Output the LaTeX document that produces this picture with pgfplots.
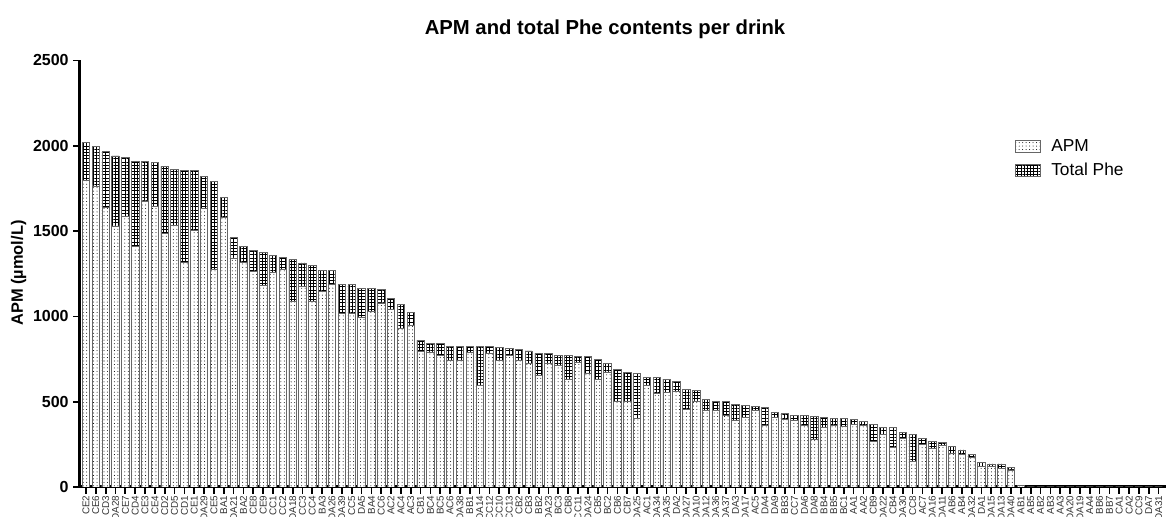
\documentclass[border=0pt]{standalone}
\usepackage{pgfplots}
\pgfplotsset{compat=1.18}
\usepackage{pgfplotstable}
\usetikzlibrary{patterns.meta}
\usepackage{fontspec}
\setmainfont{Liberation Sans}

\pgfplotstableread{
x total apm
0 2020 1795
1 1995 1765
2 1965 1641
3 1941 1530
4 1932 1584
5 1910 1412
6 1906 1677
7 1902 1643
8 1879 1484
9 1863 1533
10 1857 1314
11 1857 1506
12 1820 1634
13 1790 1275
14 1696 1579
15 1461 1343
16 1412 1318
17 1388 1265
18 1373 1180
19 1359 1259
20 1348 1275
21 1333 1089
22 1313 1177
23 1298 1089
24 1270 1144
25 1270 1187
26 1188 1017
27 1188 1017
28 1163 997
29 1163 1030
30 1159 1079
31 1105 1040
32 1069 929
33 1021 948
34 861 796
35 841 792
36 841 773
37 826 744
38 826 744
39 826 788
40 826 593
41 822 786
42 818 744
43 812 769
44 806 742
45 798 724
46 783 652
47 783 724
48 771 714
49 771 630
50 763 732
51 763 666
52 748 630
53 724 675
54 689 500
55 671 500
56 666 402
57 642 593
58 642 548
59 632 552
60 617 558
61 572 455
62 564 505
63 513 451
64 504 451
65 500 420
66 482 388
67 476 408
68 470 451
69 466 359
70 435 408
71 431 396
72 420 388
73 418 361
74 416 281
75 408 350
76 400 363
77 400 353
78 394 369
79 385 359
80 365 265
81 347 306
82 347 230
83 318 285
84 308 152
85 283 250
86 269 226
87 263 242
88 236 197
89 217 193
90 193 174
91 142 123
92 135 119
93 135 109
94 113 100
95 10 8
96 0 0
97 0 0
98 0 0
99 0 0
100 0 0
101 0 0
102 0 0
103 0 0
104 0 0
105 0 0
106 0 0
107 0 0
108 0 0
109 0 0
}\drinks

\begin{document}
\begin{tikzpicture}
\path[use as bounding box] (-60pt,-22.5pt) rectangle (815.25pt,365.25pt);
\begin{axis}[
  at={(0pt,0pt)}, anchor=south west,
  scale only axis, width=814.5pt, height=319.9pt,
  xmin=-0.609, xmax=109.75, ymin=0, ymax=2500,
  axis x line=bottom, axis y line=left,
  axis line style={line width=2.25pt},
  x axis line style={-}, y axis line style={-},
  ybar, bar width=5.6pt,
  tick align=outside, major tick length=5pt,
  tick style={line width=1.3pt, black},
  xtick={0,...,109},
  xticklabels={CE2,CE6,CD3,DA28,CE7,CD4,CE3,CE4,CD2,CD5,CD1,CE1,DA29,CE5,BA1,DA21,BA2,CE8,CE9,CC1,CC2,DA18,CC3,CC4,BA3,DA26,DA39,CC5,DA5,BA4,CC6,AC2,AC4,AC3,CB1,BC4,BC5,AC6,DA38,BB1,DA14,CC12,CC10,CC13,CB2,CB3,BB2,DA23,BC3,CB8,CC11,DA24,CB5,BC2,CB6,CB7,DA25,AC1,DA34,DA35,DA2,DA27,DA10,DA12,DA36,DA37,DA3,DA17,AC5,DA4,DA9,BB3,CC7,DA6,DA8,BB4,BB5,BC1,AA1,AA2,CB9,DA22,CB4,DA30,CC8,AC7,DA16,DA11,AB6,AB4,DA32,DA1,DA15,DA13,DA40,AB1,AB5,AB2,AB3,AA3,DA20,DA19,AA4,BB6,BB7,CA1,CA2,CC9,DA7,DA31},
  xticklabel style={rotate=90, anchor=east, font=\fontsize{7.4}{8}\selectfont, inner sep=1.2pt, text=black!80},
  ytick={0,500,1000,1500,2000,2500},
  yticklabel style={font=\bfseries\fontsize{12}{13}\selectfont},
  /pgf/number format/assume math mode=true,
  /pgf/number format/1000 sep={},
  legend style={at={(0.857,0.827)}, anchor=north west, draw=none, fill=none,
    font=\fontsize{13}{15}\selectfont, row sep=3pt, column sep=6pt},
  legend cell align=left,
  reverse legend,
  legend image code/.code={\draw[#1] (0pt,-4.5pt) rectangle (18.75pt,4.5pt);},
]
\addplot[bar shift=0pt, draw=black!60, line width=0.5pt, fill=white,
  postaction={pattern={Hatch[angle=0, distance=2.4pt, line width=0.35pt]}}]
  table[x=x, y=total] {\drinks};
\addlegendentry{Total Phe}
\addplot[bar shift=0pt, draw=black!60, line width=0.5pt, fill=white,
  postaction={pattern={Dots[distance=2.6pt, radius=0.38pt]}}]
  table[x=x, y=apm] {\drinks};
\addlegendentry{APM}
\end{axis}
\node[anchor=base, font=\bfseries\fontsize{15.2}{17}\selectfont] at (393.75pt,339pt) {APM and total Phe contents per drink};
\node[rotate=90, font=\bfseries\fontsize{12.3}{14}\selectfont] at (-46pt,160.5pt) {APM (µmol/L)};
\end{tikzpicture}
\end{document}
